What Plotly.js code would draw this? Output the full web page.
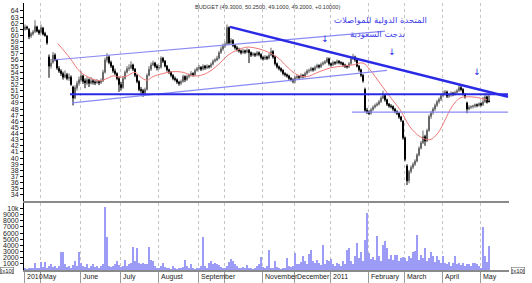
<!DOCTYPE html>
<html><head><meta charset="utf-8">
<script src="https://cdn.plot.ly/plotly-3.0.1.min.js"></script>
<style>html,body{margin:0;padding:0;background:#fff}#chart{width:532px;height:283px}</style>
</head><body><div id="chart"></div>
<script>
// ---- price data (trading-day bars) ----
const openP=[61.0,61.4,61.0,59.9,60.2,60.6,61.4,60.8,60.5,61.2,
60.3,59.9,56.5,55.0,55.6,56.8,56.0,54.6,54.2,53.8,
53.2,53.6,53.0,53.2,51.6,49.8,51.4,52.2,52.7,53.4,
52.6,52.2,52.8,52.2,52.6,52.4,52.3,52.5,52.3,52.6,
54.0,56.0,56.5,55.6,55.0,54.2,53.8,53.0,52.0,51.5,
53.0,54.0,54.6,54.7,55.2,54.5,53.5,52.5,51.2,51.0,
50.6,51.2,53.5,54.5,55.2,55.5,55.0,54.7,54.8,56.3,
55.8,55.0,54.4,54.0,53.5,53.0,52.8,52.4,52.2,52.5,
53.3,52.8,53.3,53.5,53.8,53.6,54.3,54.6,54.8,54.5,
55.0,54.7,55.0,54.9,55.3,55.8,56.0,56.3,57.2,57.8,
58.3,58.6,61.3,58.8,59.2,58.4,58.0,57.7,57.5,57.2,
57.5,57.3,57.6,57.2,56.8,57.0,56.8,57.2,56.9,56.4,
56.2,56.5,56.3,56.8,57.4,56.5,55.4,54.9,54.6,54.3,
53.8,53.6,53.4,53.0,52.8,52.6,53.1,53.3,53.2,53.5,
53.3,53.8,54.2,54.3,54.6,54.4,54.8,55.1,54.9,55.3,
55.5,55.7,56.2,55.4,55.2,55.6,55.5,55.8,55.6,55.5,
55.2,55.0,54.9,55.4,56.2,56.5,56.0,55.0,54.4,53.5,
51.2,47.8,47.5,47.3,47.9,48.3,48.6,48.8,49.2,49.8,
50.2,49.5,48.8,48.5,48.4,48.0,47.6,47.3,46.7,46.0,
43.3,38.7,36.3,37.8,38.5,39.0,39.5,40.5,41.6,42.5,
43.5,42.8,44.5,46.8,47.4,48.0,48.6,49.2,49.6,50.2,
50.5,50.8,50.1,50.3,50.6,50.4,50.7,51.0,51.5,51.2,
50.4,49.0,48.0,48.3,48.4,48.5,48.7,48.6,48.9,48.7,
49.2,50.0,49.3];
const highP=[61.8,61.6,61.2,60.6,60.9,62.5,61.6,61.0,61.8,61.4,
60.6,60.1,56.9,56.2,57.3,57.1,56.2,55.0,54.5,54.1,
54.3,53.9,53.8,53.5,51.8,51.9,52.6,53.3,54.2,53.6,
53.0,53.3,53.0,53.2,52.9,52.7,52.9,52.7,53.0,54.4,
56.4,57.1,56.8,55.9,55.2,54.6,54.0,53.3,52.4,53.4,
54.3,55.0,55.3,55.8,55.4,54.7,53.7,52.7,51.6,51.3,
51.5,53.8,55.0,55.6,55.9,55.7,55.3,55.2,56.6,56.5,
56.0,55.2,54.6,54.2,53.7,53.3,53.0,52.6,52.8,53.6,
53.5,53.6,53.8,54.2,54.0,54.6,54.9,55.2,55.0,55.3,
55.2,55.3,55.2,55.6,56.1,56.3,56.7,57.5,58.2,58.7,
59.0,61.8,61.5,59.6,59.4,58.6,58.3,58.0,57.7,57.8,
57.7,57.9,57.8,57.4,57.3,57.2,57.5,57.4,57.1,56.7,
56.8,56.7,57.1,58.0,57.6,56.7,55.6,55.1,54.8,54.5,
54.0,53.8,53.6,53.2,53.0,53.4,53.6,53.5,53.8,53.7,
54.1,54.5,54.6,54.9,54.8,55.1,55.4,55.3,55.6,55.8,
56.0,56.5,56.4,55.6,55.9,55.8,56.1,56.0,55.8,55.7,
55.4,55.2,55.7,56.5,57.0,56.7,56.2,55.2,54.6,53.7,
51.5,48.2,47.8,48.2,48.6,48.9,49.1,49.5,50.1,51.0,
50.4,49.7,49.0,48.8,48.6,48.2,47.8,47.5,46.9,46.2,
43.5,39.0,38.1,38.8,39.3,39.8,40.8,41.9,42.8,44.5,
43.8,44.8,47.1,47.7,48.3,48.9,49.5,49.9,50.5,51.0,
51.1,51.0,50.6,50.9,50.8,51.0,51.3,52.0,51.8,51.4,
50.6,49.2,48.6,48.6,48.7,48.9,48.9,49.1,49.1,50.0,
50.5,50.2,50.25];
const lowP=[60.8,60.9,59.4,59.6,60.0,60.4,60.5,60.1,60.3,60.0,
59.8,58.5,53.1,54.6,55.4,55.8,54.4,53.9,53.4,52.8,
53.0,52.7,52.6,51.8,48.6,49.6,51.0,51.8,52.5,52.1,
51.4,51.9,51.6,52.0,52.0,51.9,52.1,51.9,52.1,52.4,
53.8,55.6,55.3,54.7,53.9,53.5,52.7,50.8,51.0,51.3,
52.8,53.8,54.2,54.5,54.2,53.2,52.2,50.9,50.5,50.0,
50.4,51.0,53.3,54.2,55.0,54.7,54.3,54.4,54.6,55.5,
54.8,54.1,53.7,53.2,52.7,52.5,52.1,51.8,51.9,52.3,
52.4,52.6,53.0,53.3,53.3,53.4,54.1,54.4,54.2,54.3,
54.4,54.5,54.6,54.7,55.1,55.6,55.8,56.1,57.0,57.5,
58.0,58.4,58.5,58.5,58.1,57.7,57.4,57.2,56.9,57.0,
57.0,57.1,55.5,56.5,56.6,56.5,56.6,56.6,56.1,55.9,
56.0,56.0,56.1,56.6,56.2,55.1,54.6,54.3,54.0,53.5,
53.3,53.1,52.7,52.5,52.2,52.2,52.9,52.9,53.0,53.0,
53.1,53.6,53.9,54.1,54.1,54.2,54.6,54.6,54.7,55.1,
55.3,55.5,55.1,54.9,55.0,55.2,55.3,55.3,55.2,54.9,
54.7,54.6,54.7,55.2,56.0,55.7,54.8,54.1,53.2,52.3,
47.5,47.2,47.0,47.1,47.7,48.1,48.4,48.6,49.0,49.6,
49.2,48.5,48.2,48.1,47.7,47.3,47.0,46.4,45.9,43.0,
39.5,35.6,35.9,37.5,38.2,38.7,39.3,40.3,41.4,42.3,
42.0,42.6,44.3,46.4,47.1,47.7,48.3,48.9,49.3,49.9,
50.2,49.8,49.8,50.0,50.1,50.2,50.5,50.8,50.9,50.2,
49.7,47.3,47.8,48.0,48.1,48.2,48.3,48.4,48.4,48.5,
49.0,48.9,49.1];
const closeP=[61.4,61.2,59.8,60.3,60.6,61.5,60.7,60.4,61.3,60.2,
60.0,58.8,55.0,55.5,56.8,56.0,54.7,54.2,53.8,53.2,
53.6,53.0,53.2,52.0,49.8,51.5,52.2,52.8,53.4,52.5,
52.3,52.8,52.2,52.6,52.4,52.3,52.5,52.3,52.6,54.0,
56.0,56.5,55.6,55.0,54.2,53.8,53.0,52.0,51.5,53.0,
54.0,54.6,54.7,55.2,54.5,53.5,52.5,51.2,51.0,50.6,
51.2,53.5,54.5,55.2,55.5,55.0,54.7,54.8,56.3,55.8,
55.0,54.4,54.0,53.5,53.0,52.8,52.4,52.2,52.5,53.3,
52.8,53.3,53.5,53.8,53.6,54.3,54.6,54.8,54.5,55.0,
54.7,55.0,54.9,55.3,55.8,56.0,56.3,57.2,57.8,58.3,
58.6,61.3,58.8,59.2,58.4,58.0,57.7,57.5,57.2,57.5,
57.3,57.6,57.2,56.8,57.0,56.8,57.2,56.9,56.4,56.2,
56.5,56.3,56.8,57.4,56.5,55.4,54.9,54.6,54.3,53.8,
53.6,53.4,53.0,52.8,52.6,53.1,53.3,53.2,53.5,53.3,
53.8,54.2,54.3,54.6,54.4,54.8,55.1,54.9,55.3,55.5,
55.7,56.2,55.4,55.2,55.6,55.5,55.8,55.6,55.5,55.2,
55.0,54.9,55.4,56.2,56.5,56.0,55.0,54.4,53.5,52.6,
47.8,47.5,47.3,47.9,48.3,48.6,48.8,49.2,49.8,50.2,
49.5,48.8,48.5,48.4,48.0,47.6,47.3,46.7,46.2,43.3,
39.8,36.3,37.8,38.5,39.0,39.5,40.5,41.6,42.5,43.5,
42.8,44.5,46.8,47.4,48.0,48.6,49.2,49.6,50.2,50.5,
50.8,50.1,50.3,50.6,50.4,50.7,51.0,51.5,51.2,50.4,
50.0,48.0,48.3,48.4,48.5,48.7,48.6,48.9,48.7,49.2,
50.0,49.1,49.2];
const volume=[300,200,400,300,250,1100,400,300,1300,500,
1300,400,600,900,500,700,300,600,2900,2900,
1000,500,600,400,800,1500,600,2900,1200,700,
500,900,400,600,1000,500,700,400,600,900,
10300,5400,600,500,700,1000,1400,800,500,700,
1700,600,900,1200,3800,1500,3600,1100,1000,1100,
900,1000,3700,1600,1500,700,400,300,600,1100,
500,300,400,200,600,300,200,400,300,500,
1600,700,300,1000,400,200,300,400,700,5400,
600,400,1100,1400,900,1200,1000,800,500,400,
300,600,1300,1800,1500,900,600,400,300,500,
300,800,400,300,200,400,600,1000,2100,500,
300,600,3200,400,300,1500,500,300,200,400,
300,2000,600,500,700,2700,1000,900,1300,2300,
1500,900,2600,3200,1400,1100,1600,1200,800,4100,
1000,1700,1500,1800,900,700,1200,1000,600,1400,
900,3300,3600,1400,1000,2200,4400,2000,2900,1500,
4900,9300,2800,1800,2100,1700,5500,2300,1500,4000,
4700,3600,1800,2500,1600,2500,2400,1400,1900,2100,
2000,1500,2300,1900,3000,3100,5700,1700,2400,2000,
3600,1500,1900,3000,2200,1300,2300,1600,1100,2200,
1100,900,1300,700,1200,2200,900,1200,800,1100,
600,900,1000,700,1200,1100,900,600,400,7000,
2300,1300,3900];
// moving average
const maX=[16.4,22.5,27.5,32.5,37.5,41,44,47.5,51,55,57.5,61,64,69,74,79,84,89,93.5,97.5,101.5,106,111,116,120,126,131,136,141,146.5,152.5,158.5,164,169,172.5,177.5,180,182.5,187.5,192.5,197.5,202.5,206.5,210,213.5,217.5,222.5,227.5,231];
const maY=[58.7,56.3,54.1,53.1,52.6,53.0,53.4,53.2,53.4,54.0,53.3,52.7,53.3,53.8,54.1,54.0,53.4,53.6,54.4,55.5,56.8,57.6,58.1,57.9,57.5,56.5,54.9,53.6,53.3,54.0,54.7,55.0,55.2,55.5,54.4,52.2,51.1,50.0,47.9,45.1,43.5,43.0,44.1,46.2,48.4,49.8,50.0,49.8,49.5];
// drawn trend lines
const resistX=[102.5,241.5], resistY=[61.4,50.0];
const chanUpX=[14,180], chanUpY=[56.0,60.7];
const chanLoX=[23.5,181], chanLoY=[49.0,54.3];
const supportX=[22.5,241.5], supportY=[50.4,50.4];
const support2X=[163.5,241.5], support2Y=[47.5,47.5];
const arrowX=[150,183.5,226], arrowY=[59.3,57.15,53.9];
// tick labels
const priceTicks=[34,35,36,37,38,39,40,41,42,43,44,45,46,47,48,49,50,51,52,53,54,55,56,57,58,59,60,61,62,63,64];
const volTicks=[1000,2000,3000,4000,5000,6000,7000,8000,9000,10000];
const monthLabels=['2010','May','June','July','August','September','November','December','2011','February','March','April','May'];

// ---- layout config ----
const monthTicks=[-0.5,7.5,27.5,47.5,66.5,86.5,99.5,118.5,134.5,152.5,171.5,189.5,208.5,227.5];
const labelPos=[-0.5,7.5,27.5,47.5,66.5,86.5,118.5,134.5,152.5,171.5,189.5,208.5,227.5];
const xIdx=closeP.map((_,i)=>i);
const BLUE='#2a2ae6', LBLUE='#8a8af5';

const traces=[
 {type:'candlestick',x:xIdx,open:openP,high:highP,low:lowP,close:closeP,xaxis:'x',yaxis:'y',
  whiskerwidth:0,
  increasing:{line:{color:'#666',width:1},fillcolor:'#ffffff'},
  decreasing:{line:{color:'#000',width:1},fillcolor:'#000000'},hoverinfo:'skip'},
 {type:'scatter',mode:'lines',x:maX,y:maY,xaxis:'x',yaxis:'y',line:{color:'#f07878',width:1,shape:'spline'},hoverinfo:'skip'},
 {type:'scatter',mode:'lines',x:chanUpX,y:chanUpY,xaxis:'x',yaxis:'y',line:{color:LBLUE,width:1.2}},
 {type:'scatter',mode:'lines',x:chanLoX,y:chanLoY,xaxis:'x',yaxis:'y',line:{color:LBLUE,width:1.2}},
 {type:'scatter',mode:'lines',x:support2X,y:support2Y,xaxis:'x',yaxis:'y',line:{color:LBLUE,width:1.3}},
 {type:'scatter',mode:'lines',x:supportX,y:supportY,xaxis:'x',yaxis:'y',line:{color:BLUE,width:2}},
 {type:'scatter',mode:'lines',x:resistX,y:resistY,xaxis:'x',yaxis:'y',line:{color:BLUE,width:2.5}},
 {type:'scatter',mode:'text',x:arrowX,y:arrowY,text:arrowX.map(()=>'↓'),xaxis:'x',yaxis:'y',
  textfont:{family:'DejaVu Sans',size:9,color:BLUE},hoverinfo:'skip'},
 {type:'bar',x:xIdx,y:volume,xaxis:'x2',yaxis:'y3',marker:{color:'#9c9cf6',line:{width:0}},width:0.55,hoverinfo:'skip'}
];

const axFont={family:'Liberation Sans, Arial, sans-serif',size:7,color:'#222'};
const common={showgrid:false,zeroline:false,fixedrange:true,tickfont:axFont};
const layout={
 width:532,height:283,margin:{l:24,r:23,t:3,b:13,pad:0},
 paper_bgcolor:'#fff',plot_bgcolor:'#fff',showlegend:false,bargap:0,
 font:axFont,
 xaxis:{domain:[0,1],anchor:'y',range:[-0.5,242],tickmode:'array',tickvals:monthTicks,showticklabels:false,ticks:'',
  showgrid:true,gridcolor:'#c4c4c4',griddash:'dot',gridwidth:1,showline:true,linecolor:'#8a8a8a',linewidth:2,
  zeroline:false,rangeslider:{visible:false},fixedrange:true},
 xaxis2:{domain:[0,1],anchor:'y3',matches:'x',range:[-0.5,242],tickmode:'array',tickvals:monthTicks,showticklabels:false,
  ticks:'outside',ticklen:11,tickcolor:'#9a9a9a',tickwidth:1,
  showgrid:true,gridcolor:'#c4c4c4',griddash:'dot',gridwidth:1,showline:true,linecolor:'#8a8a8a',linewidth:2,zeroline:false,fixedrange:true},
 yaxis:Object.assign({},common,{domain:[0.2584,1],anchor:'x',range:[33,65.3],tickmode:'array',tickvals:priceTicks,
  ticks:'outside',ticklen:3,tickcolor:'#000',showline:true,linecolor:'#000',linewidth:1,side:'left'}),
 yaxis2:Object.assign({},common,{overlaying:'y',anchor:'x',side:'right',range:[33,65.3],tickmode:'array',tickvals:priceTicks,
  ticks:'outside',ticklen:3,tickcolor:'#000',showline:true,linecolor:'#000',linewidth:1}),
 yaxis3:Object.assign({},common,{domain:[0,0.2509],anchor:'x2',range:[0,10900],tickmode:'array',tickvals:volTicks,
  ticks:'outside',ticklen:3,tickcolor:'#000',showline:true,linecolor:'#000',linewidth:1,side:'left'}),
 yaxis4:Object.assign({},common,{overlaying:'y3',anchor:'x2',side:'right',range:[0,10900],tickmode:'array',tickvals:volTicks,
  ticks:'outside',ticklen:3,tickcolor:'#000',showline:true,linecolor:'#000',linewidth:1}),
 annotations:[
  {xref:'paper',yref:'paper',x:0.502,y:1,yanchor:'middle',yshift:-4,showarrow:false,
   text:'BUDGET (49.3000, 50.2500, 49.1000, 49.2000, +0.10000)',font:{family:'Liberation Sans, Arial, sans-serif',size:5.6,color:'#333'}},
  {xref:'paper',yref:'paper',x:0.835,y:1,yanchor:'middle',yshift:-17,showarrow:false,
   text:'المتحدة الدولية للمواصلات',font:{family:'DejaVu Sans',size:8.5,color:'#4040e8'}},
  {xref:'paper',yref:'paper',x:0.79,y:1,yanchor:'middle',yshift:-31,showarrow:false,
   text:'بدجت السعودية',font:{family:'DejaVu Sans',size:8.5,color:'#4040e8'}},
  {xref:'paper',yref:'paper',x:0,y:0,xanchor:'right',yanchor:'middle',xshift:-10,yshift:0,showarrow:false,
   text:'[x10]',font:{family:'Liberation Sans, Arial, sans-serif',size:6,color:'#222'},bgcolor:'#fff',bordercolor:'#555',borderwidth:0.5,borderpad:0},
  {xref:'paper',yref:'paper',x:1,y:0,xanchor:'left',yanchor:'middle',xshift:2,yshift:0,showarrow:false,
   text:'[x10]',font:{family:'Liberation Sans, Arial, sans-serif',size:6,color:'#222'},bgcolor:'#fff',bordercolor:'#555',borderwidth:0.5,borderpad:0}
 ].concat(monthLabels.map((t,k)=>({xref:'x2',yref:'paper',x:labelPos[k],y:0,xanchor:'left',yanchor:'top',xshift:1,yshift:-1,
   showarrow:false,text:t,font:{family:'Liberation Sans, Arial, sans-serif',size:7,color:'#222'}})))
};
Plotly.newPlot('chart',traces,layout,{staticPlot:true,displayModeBar:false});
</script></body></html>
